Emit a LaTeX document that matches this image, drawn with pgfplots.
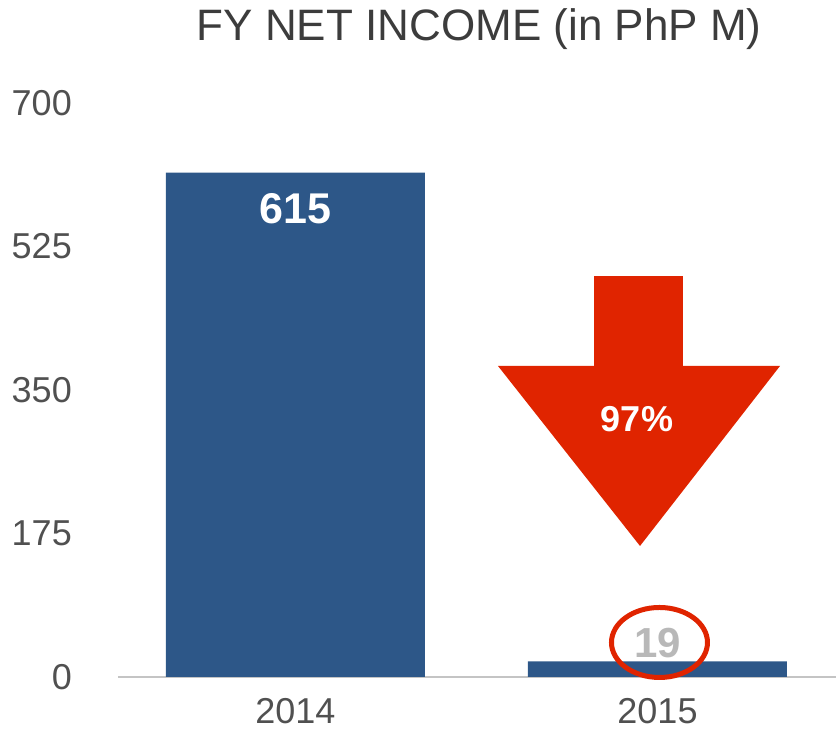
\documentclass[border=0pt]{standalone}
\usepackage{pgfplots}
\pgfplotsset{compat=1.18}
\usepackage{fontspec}
\setmainfont{Liberation Sans}
\definecolor{barblue}{HTML}{2D5788}
\definecolor{arrowred}{HTML}{E02400}
\definecolor{titlegray}{HTML}{3C3C3C}
\definecolor{tickgray}{HTML}{505050}
\definecolor{axisgray}{HTML}{C4C4C4}
\definecolor{lightlabel}{HTML}{B8B8B8}
\begin{document}
\begin{tikzpicture}
\path[use as bounding box] (-118pt,-54pt) rectangle (718pt,677pt);
\begin{axis}[
  at={(0pt,0pt)}, anchor=south west,
  scale only axis, width=718pt, height=574pt,
  xmin=-0.4903, xmax=1.4931, ymin=0, ymax=700,
  clip=false,
  axis x line*=bottom, axis y line*=left,
  y axis line style={draw=none},
  x axis line style={draw=axisgray, line width=1.5pt},
  tick style={draw=none},
  xtick={0,1}, xticklabels={2014,2015},
  ytick={0,175,350,525,700},
  /pgf/number format/assume math mode=true,
  ticklabel style={font=\fontsize{36}{40}\selectfont, text=tickgray, inner sep=0pt},
  xticklabel style={anchor=north, yshift=-21pt},
  yticklabel style={anchor=east, xshift=-46pt},
  title={FY NET INCOME (in PhP M)},
  title style={at={(axis description cs:0.503,1)}, anchor=base, yshift=56pt,
    font=\fontsize{44}{48}\selectfont, text=titlegray, inner sep=0pt},
]
\addplot[ybar, bar width=259pt, fill=barblue, draw=none] coordinates {(0,615) (1,19)};
% arrow
\fill[arrowred] (axis cs:0.8246,489.0) -- (axis cs:1.0704,489.0) -- (axis cs:1.0704,379.3)
  -- (axis cs:1.3384,379.3) -- (axis cs:0.9517,159.8) -- (axis cs:0.5594,379.3)
  -- (axis cs:0.8246,379.3) -- cycle;
\node[anchor=base, text=white, inner sep=0pt, font=\bfseries\fontsize{36}{40}\selectfont]
  at (axis cs:0.9434,298.8) {97\%};
% value labels
\node[anchor=base, text=white, inner sep=0pt, font=\bfseries\fontsize{43}{46}\selectfont]
  at (axis cs:0,553.6) {615};
\node[anchor=base, text=lightlabel, inner sep=0pt, font=\bfseries\fontsize{42}{46}\selectfont]
  at (axis cs:1,23.2) {19};
\draw[arrowred, line width=5pt] (axis cs:1.0055,42.1) ellipse [x radius=48pt, y radius=35pt];
\end{axis}
\end{tikzpicture}
\end{document}
